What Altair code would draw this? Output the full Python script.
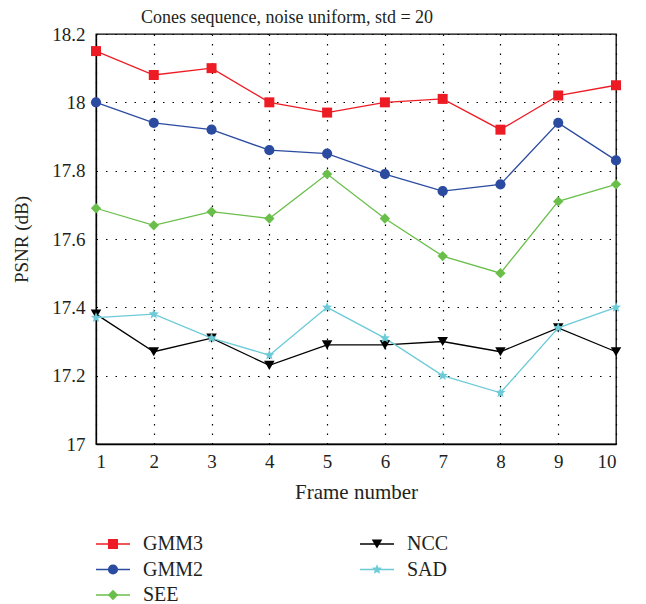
import altair as alt
import pandas as pd

frames = list(range(1, 11))
series_names = ["GMM3", "GMM2", "SEE", "NCC", "SAD"]
gmm3 = [18.15, 18.08, 18.10, 18.00, 17.97, 18.00, 18.01, 17.92, 18.02, 18.05]
gmm2 = [18.00, 17.94, 17.92, 17.86, 17.85, 17.79, 17.74, 17.76, 17.94, 17.83]
see = [17.69, 17.64, 17.68, 17.66, 17.79, 17.66, 17.55, 17.50, 17.71, 17.76]
ncc = [17.38, 17.27, 17.31, 17.23, 17.29, 17.29, 17.30, 17.27, 17.34, 17.27]
sad = [17.37, 17.38, 17.31, 17.26, 17.40, 17.31, 17.20, 17.15, 17.34, 17.40]
y_ticks = [17, 17.2, 17.4, 17.6, 17.8, 18, 18.2]

legend_cols = [0, 0, 0, 1, 1]
legend_rows = [0, 1, 2, 0, 1]

colors = ["#ed1c24", "#2b4ba0", "#6abf4b", "#000000", "#6dcbd8"]
star = ("M0,-1L0.26,-0.36L0.951,-0.309L0.42,0.14L0.588,0.809L0,0.45"
        "L-0.588,0.809L-0.42,0.14L-0.951,-0.309L-0.26,-0.36Z")
shapes = ["square", "circle", "diamond", "triangle-down", star]
sizes = [100, 115, 125, 115, 240]

FONT = "Liberation Serif"
TXT = "#231f20"

rows = []
for name, vals in zip(series_names, [gmm3, gmm2, see, ncc, sad]):
    for f, v in zip(frames, vals):
        rows.append({"series": name, "frame": f, "psnr": v})
df = pd.DataFrame(rows)

leg = pd.DataFrame({"series": series_names, "col": legend_cols, "row": legend_rows})

color_scale = alt.Scale(domain=series_names, range=colors)
shape_scale = alt.Scale(domain=series_names, range=shapes)
size_scale = alt.Scale(domain=series_names, range=sizes)

x_enc = alt.X(
    "frame:Q",
    scale=alt.Scale(domain=[1, 10], nice=False),
    axis=alt.Axis(
        values=frames, format="d", title="Frame number",
        grid=True, gridDash=[1.5, 8], gridColor="black", gridWidth=1.2, gridOpacity=1,
        domainColor="black", domainWidth=1.3, ticks=False,
        labelFont=FONT, labelFontSize=19, labelColor=TXT, labelPadding=8,
        titleFont=FONT, titleFontSize=21, titleFontWeight="normal", titleColor=TXT,
        titlePadding=10,
    ),
)
y_enc = alt.Y(
    "psnr:Q",
    scale=alt.Scale(domain=[17, 18.2], nice=False, zero=False),
    axis=alt.Axis(
        values=y_ticks, format="~g", title="PSNR (dB)",
        grid=True, gridDash=[1.5, 8], gridColor="black", gridWidth=1.2, gridOpacity=1,
        domainColor="black", domainWidth=1.3, ticks=False,
        labelFont=FONT, labelFontSize=19, labelColor=TXT, labelPadding=11,
        titleFont=FONT, titleFontSize=19, titleFontWeight="normal", titleColor=TXT,
        titlePadding=20,
    ),
)

base = alt.Chart(df)
lines = base.mark_line(strokeWidth=1.3).encode(
    x=x_enc, y=y_enc,
    color=alt.Color("series:N", scale=color_scale, legend=None),
    detail="series:N",
)
points = base.mark_point(filled=True, opacity=1).encode(
    x="frame:Q", y="psnr:Q",
    color=alt.Color("series:N", scale=color_scale, legend=None),
    shape=alt.Shape("series:N", scale=shape_scale, legend=None),
    size=alt.Size("series:N", scale=size_scale, legend=None),
)

main = alt.layer(lines, points).properties(
    width=520, height=410,
    title=alt.TitleParams(
        "Cones sequence, noise uniform, std = 20",
        font=FONT, fontSize=18, fontWeight="normal", color=TXT, offset=3,
        anchor="middle", dx=-69, dy=5,
    ),
    view=alt.ViewBackground(stroke="black", strokeWidth=1.3),
)

lx = alt.X("col:Q", scale=alt.Scale(domain=[0, 1], range=[17, 281]), axis=None)
ly = alt.Y("row:Q", scale=alt.Scale(domain=[0, 2], range=[8, 59]), axis=None)
lbase = alt.Chart(leg)
lrule = lbase.mark_rule(xOffset=-17, x2Offset=17, strokeWidth=1.5).encode(
    x=lx, x2="col", y=ly,
    color=alt.Color("series:N", scale=color_scale, legend=None),
)
lpoint = lbase.mark_point(filled=True, opacity=1).encode(
    x=lx, y=ly,
    color=alt.Color("series:N", scale=color_scale, legend=None),
    shape=alt.Shape("series:N", scale=shape_scale, legend=None),
    size=alt.Size("series:N", scale=size_scale, legend=None),
)
ltext = lbase.mark_text(align="left", baseline="middle", dx=30, font=FONT,
                        fontSize=20, color=TXT).encode(x=lx, y=ly, text="series:N")
legend_chart = alt.layer(lrule, lpoint, ltext).properties(
    width=520, height=64,
    view=alt.ViewBackground(stroke="transparent"),
)

chart = alt.vconcat(main, legend_chart, spacing=30).properties(
    padding={"left": 12, "top": 8, "right": 5, "bottom": 0},
    background="white",
).configure_view(stroke="transparent")

chart.save("out.html", embed_options={"renderer": "svg", "actions": False})
